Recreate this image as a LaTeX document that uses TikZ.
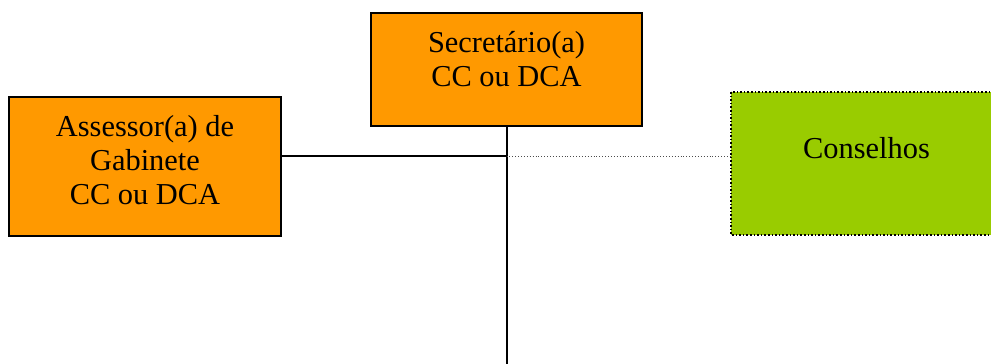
\documentclass[tikz,border=0pt]{standalone}
\usepackage{fontspec}
\setmainfont{Liberation Serif}
\definecolor{boxorange}{HTML}{FF9900}
\definecolor{boxgreen}{HTML}{99CC00}
\begin{document}
\begin{tikzpicture}[x=1pt,y=-1pt,
  orgbox/.style={draw=black, line width=1.3pt, fill=boxorange},
  councilbox/.style={draw=black, line width=1.6pt, dotted, fill=boxgreen},
  boxtext/.style={align=center, inner sep=0pt, anchor=base, font=\fontsize{30.4}{34}\selectfont},
  link/.style={draw=black, line width=1.5pt},
  dotlink/.style={draw=black!70, line width=0.9pt, dotted}]
\useasboundingbox (0,0) rectangle (991,364);
\fill[white] (0,0) rectangle (991,364);
% boxes
\draw[orgbox] (371,13) rectangle (642,126);
\coordinate (secS) at (506.5,126);
\draw[orgbox] (9,97) rectangle (281,236);
\coordinate (assE) at (281,156);
\draw[councilbox] (731,92) rectangle (1002,235);
\coordinate (conW) at (731,156);
% texts (base anchor = baseline of last line)
\node[boxtext] (sectext) at (506.5,86) {Secretário(a)\\CC ou DCA};
\node[boxtext] (asstext) at (145,204) {Assessor(a) de\\Gabinete\\CC ou DCA};
\node[boxtext] (context) at (866.5,158) {Conselhos};
% connectors
\coordinate (junction) at (506.5,156);
\coordinate (bottom) at (506.5,364);
\draw[link, line width=2pt] (secS) -- (bottom);
\draw[link] (assE) -- (junction);
\draw[dotlink] (junction) -- (conW);
\end{tikzpicture}
\end{document}
